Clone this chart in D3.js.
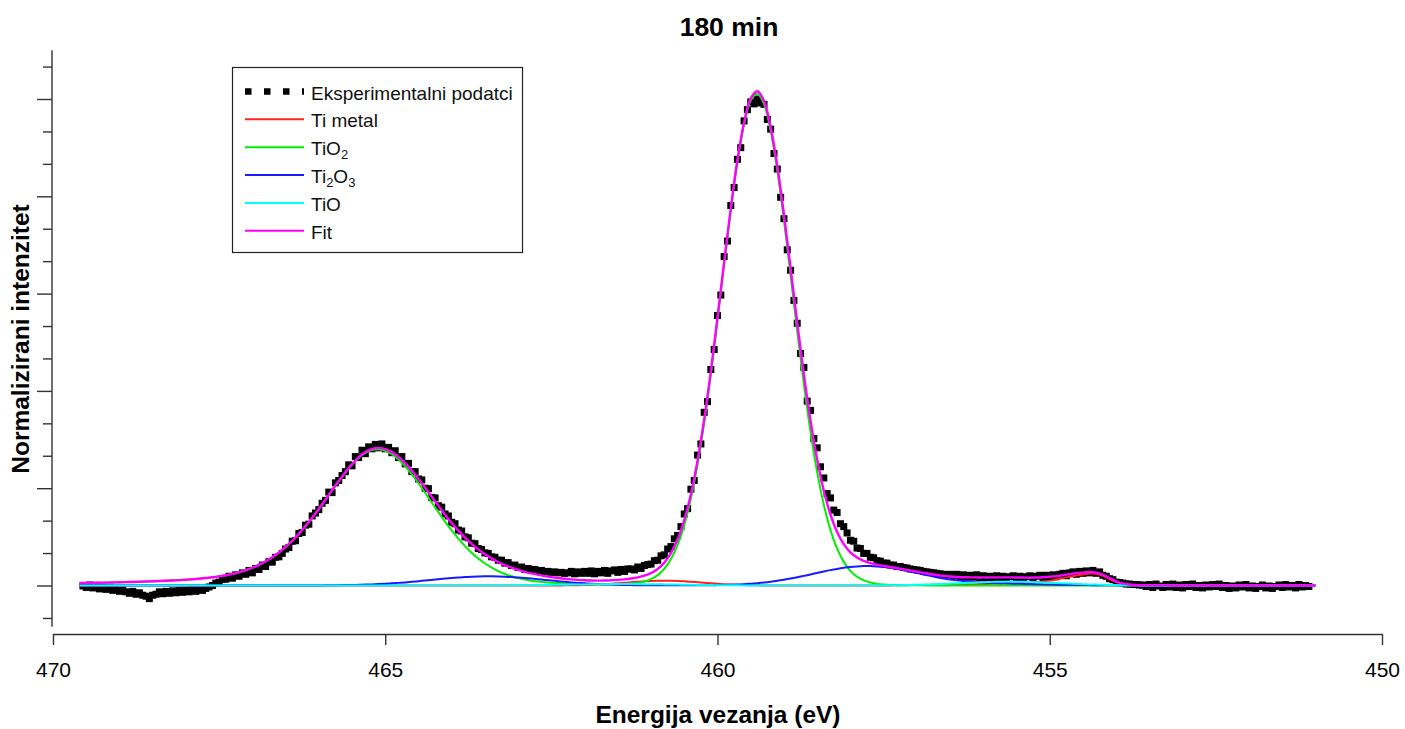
<!DOCTYPE html>
<html><head><meta charset="utf-8">
<script src="https://cdn.jsdelivr.net/npm/d3@7"></script>
<style>
body{margin:0;background:#fff}
text{font-family:"Liberation Sans",Arial,sans-serif}
</style>
</head><body>
<svg id="chart" width="1405" height="729"></svg>
<script>
// ---------- text ----------
const chartTitle = "180 min";
const xTitle = "Energija vezanja (eV)";
const yTitle = "Normalizirani intenzitet";
const xTickValues = [470, 465, 460, 455, 450];
const yMajorTicks = [0, 0.2, 0.4, 0.6, 0.8, 1.0];
const yMinorTicks = [-0.0667, 0.0667, 0.1333, 0.2667, 0.3333, 0.4667, 0.5333, 0.6667, 0.7333, 0.8667, 0.9333, 1.0667];
const legendNames = ["Eksperimentalni podatci", "Ti metal", "TiO2", "Ti2O3", "TiO", "Fit"];

// ---------- model curves: 469.6 eV down to 451.0 eV, every 0.1 eV ----------
const modelStartEV = 469.6, modelStepEV = 0.1;
const tiO2 = [
 .0051,.0053,.0055,.0058,.0060,.0063,.0067,.0070,.0073,.0077,
 .0082,.0086,.0091,.0097,.0104,.0111,.0119,.0129,.0140,.0153,
 .0169,.0188,.0211,.0239,.0274,.0315,.0365,.0425,.0497,.0581,
 .0679,.0792,.0920,.1063,.1221,.1392,.1572,.1761,.1953,.2142,
 .2322,.2484,.2621,.2724,.2785,.2800,.2769,.2698,.2590,.2450,
 .2285,.2101,.1906,.1706,.1507,.1314,.1132,.0963,.0810,.0674,
 .0555,.0453,.0367,.0295,.0236,.0189,.0152,.0122,.0099,.0081,
 .0068,.0057,.0050,.0043,.0039,.0035,.0032,.0028,.0027,.0025,
 .0026,.0027,.0031,.0039,.0054,.0083,.0132,.0214,.0344,.0544,
 .0834,.1241,.1789,.2491,.3350,.4350,.5459,.6609,.7718,.8708,
 .9478,.9967,1.0107,.9897,.9346,.8526,.7506,.6376,.5225,.4135,
 .3160,.2331,.1660,.1140,.0757,.0486,.0301,.0181,.0106,.0061,
 .0033,.0019,.0011,.0007,.0003,.0003,.0003,.0003,.0002,.0002,
 .0002,.0002,.0002,.0002,.0002,.0002,.0002,.0002,.0002,.0001,
 .0001,.0001,.0001,.0001,.0001,.0001,.0001,.0001,.0001,.0001,
 .0001,.0001,.0001,.0001,.0001,.0001,.0001,.0001,.0001,.0001,
 .0001,.0001,.0001,.0001,.0001,.0001,.0001,.0001,.0001,.0001,
 0,0,0,0,0,0,0,0,0,0,
 0,0,0,0,0,0,0
];
const ti2O3 = [
 0,0,0,0,0,0,0,0,0,0,
 0,0,0,0,0,0,0,0,0,0,
 0,0,0,0,0,0,0,0,0,0,
 0,0,0,.0001,.0001,.0002,.0002,.0003,.0004,.0006,
 .0008,.0010,.0014,.0018,.0023,.0029,.0036,.0044,.0054,.0064,
 .0076,.0089,.0102,.0115,.0129,.0142,.0154,.0165,.0175,.0182,
 .0187,.0190,.0190,.0187,.0182,.0175,.0165,.0154,.0142,.0129,
 .0115,.0102,.0089,.0076,.0064,.0054,.0044,.0036,.0029,.0023,
 .0018,.0014,.0010,.0008,.0006,.0004,.0003,.0003,.0003,.0003,
 .0003,.0003,.0003,.0003,.0004,.0005,.0008,.0011,.0015,.0021,
 .0028,.0037,.0048,.0061,.0077,.0096,.0118,.0142,.0169,.0198,
 .0227,.0258,.0288,.0316,.0341,.0363,.0381,.0393,.0399,.0399,
 .0393,.0381,.0363,.0341,.0316,.0288,.0258,.0228,.0199,.0171,
 .0146,.0125,.0107,.0093,.0082,.0072,.0064,.0057,.0051,.0046,
 .0041,.0037,.0033,.0029,.0026,.0023,.0020,.0017,.0015,.0013,
 .0011,.0009,.0008,.0007,.0006,.0005,.0004,.0003,.0003,.0002,
 .0002,.0001,.0001,.0001,.0001,0,0,0,0,0,
 0,0,0,0,0,0,0,0,0,0,
 0,0,0,0,0,0,0
];
const tiMetal = [
 0,0,0,0,0,0,0,0,0,0,
 0,0,0,0,0,0,0,0,0,0,
 0,0,0,0,0,0,0,0,0,0,
 0,0,0,0,0,0,0,0,0,0,
 0,0,0,0,0,0,0,0,0,0,
 0,0,0,0,0,0,0,0,0,0,
 0,0,0,0,0,0,0,0,0,0,
 0,.0001,.0002,.0003,.0004,.0006,.0009,.0014,.0019,.0026,
 .0035,.0044,.0055,.0066,.0077,.0086,.0094,.0098,.0100,.0098,
 .0094,.0086,.0077,.0066,.0055,.0044,.0035,.0026,.0019,.0014,
 .0009,.0006,.0004,.0002,.0001,0,0,0,0,0,
 0,0,0,0,0,0,0,0,0,0,
 0,0,.0002,.0004,.0006,.0008,.0010,.0011,.0013,.0015,
 .0017,.0019,.0021,.0023,.0026,.0028,.0031,.0034,.0037,.0040,
 .0044,.0048,.0052,.0057,.0068,.0082,.0100,.0124,.0152,.0180,
 .0206,.0228,.0245,.0240,.0200,.0135,.0072,.0032,.0012,.0004,
 .0001,0,0,0,0,0,0,0,0,0,
 0,0,0,0,0,0,0,0,0,0,
 0,0,0,0,0,0,0
];
const tiO = [
 0,0,0,0,0,0,0,0,0,0,
 0,0,0,0,0,0,0,0,0,0,
 0,0,0,0,0,0,0,0,0,0,
 0,0,0,0,0,0,0,0,0,0,
 0,0,0,0,0,0,0,0,0,0,
 0,0,0,0,0,0,0,0,0,0,
 0,0,.0001,.0001,.0002,.0003,.0004,.0005,.0007,.0008,
 .0010,.0012,.0014,.0016,.0018,.0020,.0023,.0025,.0026,.0028,
 .0029,.0030,.0030,.0030,.0029,.0028,.0026,.0025,.0023,.0021,
 .0018,.0016,.0014,.0012,.0010,.0008,.0007,.0005,.0004,.0003,
 .0002,.0002,.0001,0,0,0,0,0,0,0,
 0,0,0,0,0,0,0,0,.0001,.0001,
 .0002,.0003,.0004,.0006,.0008,.0011,.0014,.0018,.0022,.0027,
 .0033,.0039,.0045,.0051,.0058,.0064,.0069,.0073,.0077,.0079,
 .0080,.0079,.0077,.0073,.0069,.0064,.0058,.0051,.0045,.0039,
 .0033,.0027,.0022,.0018,.0014,.0011,.0008,.0006,.0004,.0003,
 .0002,.0001,.0001,0,0,0,0,0,0,0,
 0,0,0,0,0,0,0,0,0,0,
 0,0,0,0,0,0,0
];
const fitCurve = [
 .0051,.0053,.0055,.0058,.0060,.0063,.0067,.0070,.0073,.0077,
 .0082,.0086,.0091,.0097,.0104,.0111,.0119,.0129,.0140,.0153,
 .0169,.0188,.0211,.0239,.0274,.0315,.0365,.0425,.0497,.0581,
 .0679,.0792,.0920,.1064,.1222,.1394,.1574,.1764,.1957,.2148,
 .2330,.2494,.2635,.2742,.2808,.2829,.2805,.2742,.2644,.2514,
 .2361,.2190,.2008,.1821,.1636,.1456,.1286,.1128,.0985,.0856,
 .0742,.0643,.0558,.0483,.0420,.0367,.0321,.0281,.0248,.0218,
 .0193,.0172,.0155,.0138,.0125,.0115,.0108,.0103,.0101,.0102,
 .0108,.0115,.0126,.0143,.0166,.0201,.0255,.0340,.0470,.0666,
 .0949,.1346,.1883,.2572,.3419,.4407,.5509,.6651,.7756,.8746,
 .9517,1.0012,1.0160,.9960,.9424,.8622,.7624,.6518,.5394,.4333,
 .3387,.2589,.1948,.1456,.1098,.0849,.0682,.0574,.0506,.0461,
 .0428,.0403,.0380,.0358,.0333,.0310,.0285,.0260,.0236,.0215,
 .0198,.0185,.0175,.0169,.0168,.0166,.0166,.0166,.0167,.0166,
 .0166,.0165,.0163,.0160,.0164,.0170,.0179,.0193,.0213,.0233,
 .0251,.0265,.0276,.0266,.0221,.0152,.0085,.0042,.0020,.0010,
 .0006,.0003,.0003,.0002,.0002,.0001,.0001,.0001,.0001,.0001,
 0,0,0,0,0,0,0,0,0,0,
 0,0,0,0,0,0,0
];

// ---------- experimental points: 469.55 eV down to 451.10 eV, every 0.05 eV ----------
const expStartEV = 469.55, expStepEV = 0.05;
const expIntensity = [
 -.001,-.004,.001,-.005,-.002,-.007,-.003,-.008,-.005,-.010,
 -.006,-.012,-.009,-.013,-.016,-.012,-.018,-.015,-.020,-.022,
 -.027,-.020,-.018,-.013,-.017,-.012,-.016,-.011,-.015,-.010,
 -.014,-.009,-.013,-.008,-.012,-.006,-.010,-.006,-.003,.000,
 .005,.007,.013,.013,.019,.015,.022,.019,.026,.023,
 .031,.026,.035,.033,.042,.039,.049,.048,.058,.059,
 .066,.075,.078,.091,.092,.107,.109,.124,.126,.143,
 .149,.156,.169,.175,.192,.191,.211,.216,.226,.234,
 .248,.246,.265,.263,.278,.271,.285,.281,.290,.283,
 .291,.281,.284,.273,.277,.263,.265,.250,.251,.234,
 .234,.219,.217,.200,.199,.181,.180,.164,.161,.147,
 .143,.130,.127,.114,.112,.100,.098,.087,.086,.076,
 .074,.067,.066,.059,.058,.052,.052,.046,.047,.041,
 .042,.037,.038,.033,.035,.032,.033,.030,.031,.028,
 .029,.027,.028,.026,.027,.025,.026,.029,.024,.028,
 .025,.029,.025,.030,.024,.029,.026,.031,.025,.030,
 .032,.027,.033,.029,.034,.034,.032,.038,.035,.041,
 .043,.044,.051,.052,.061,.063,.075,.080,.096,.103,
 .121,.147,.158,.198,.216,.268,.291,.356,.378,.444,
 .485,.555,.597,.676,.708,.781,.818,.876,.900,.955,
 .978,.994,.990,1.000,.992,.989,.958,.938,.888,.856,
 .798,.754,.690,.648,.586,.539,.477,.448,.379,.360,
 .302,.283,.244,.221,.189,.180,.155,.150,.127,.121,
 .108,.093,.091,.077,.076,.066,.066,.058,.057,.051,
 .050,.046,.046,.042,.042,.039,.039,.037,.036,.034,
 .033,.032,.031,.029,.028,.027,.026,.025,.024,.023,
 .022,.023,.020,.023,.018,.022,.017,.021,.017,.022,
 .016,.020,.015,.019,.014,.020,.015,.019,.014,.018,
 .020,.015,.019,.014,.018,.020,.015,.019,.021,.016,
 .021,.017,.022,.018,.023,.025,.020,.026,.028,.023,
 .029,.025,.030,.026,.031,.025,.028,.021,.019,.014,
 .012,.007,.006,.005,.003,.003,.002,.002,.001,.001,
 -.002,.002,-.004,.003,-.001,-.004,.002,-.003,.003,-.004,
 .001,-.005,.002,-.002,.003,-.004,.000,-.005,.001,-.003,
 .002,-.002,.003,-.004,.000,-.006,-.001,-.005,.001,-.003,
 .002,-.005,-.001,-.006,-.002,.001,-.005,-.001,-.006,-.002,
 .001,-.004,.002,-.003,.000,-.005,.002,-.003,.000,-.002
];

// ---------- build ----------
const modelEV = tiO2.map((_, i) => +(modelStartEV - i * modelStepEV).toFixed(2));
const expEV = expIntensity.map((_, i) => +(expStartEV - i * expStepEV).toFixed(2));
const toPts = arr => arr.map((v, i) => ({e: modelEV[i], v}));

const svg = d3.select("#chart");
svg.append("rect").attr("width", 1405).attr("height", 729).attr("fill", "#fff");

const x = d3.scaleLinear().domain([470, 450]).range([53, 1382]);
const y = d3.scaleLinear().domain([0, 1]).range([585.5, 99]);
const axisColor = "#333";

// x axis
const gx = svg.append("g").attr("transform", "translate(0,634)")
  .call(d3.axisBottom(x).tickValues(xTickValues).tickSize(11).tickSizeOuter(0).tickPadding(17).tickFormat(d3.format("d")));
gx.select(".domain").attr("stroke", axisColor).attr("stroke-width", 1.4);
gx.selectAll(".tick line").attr("stroke", axisColor).attr("stroke-width", 1.4);
gx.selectAll(".tick text").attr("fill", "#000").style("font-size", "21px").style("font-family", "Liberation Sans, Arial, sans-serif");

// y axis (no labels)
const gyMajor = svg.append("g").attr("transform", "translate(52,0)")
  .call(d3.axisLeft(y).tickValues(yMajorTicks).tickSize(15).tickSizeOuter(0).tickFormat(""));
const gyMinor = svg.append("g").attr("transform", "translate(52,0)")
  .call(d3.axisLeft(y).tickValues(yMinorTicks).tickSize(9).tickSizeOuter(0).tickFormat(""));
[gyMajor, gyMinor].forEach(g => {
  g.select(".domain").remove();
  g.selectAll(".tick line").attr("stroke", axisColor).attr("stroke-width", 1.4);
});
svg.append("line").attr("x1", 52).attr("x2", 52)
  .attr("y1", y(1.10)).attr("y2", y(-0.085))
  .attr("stroke", axisColor).attr("stroke-width", 1.4);

// titles
svg.append("text").attr("x", 729).attr("y", 36).attr("text-anchor", "middle")
  .style("font-size", "26.5px").style("font-weight", "bold").text(chartTitle);
svg.append("text").attr("x", 718).attr("y", 723).attr("text-anchor", "middle")
  .style("font-size", "24.5px").style("font-weight", "bold").text(xTitle);
svg.append("text").attr("transform", "translate(29,339) rotate(-90)").attr("text-anchor", "middle")
  .style("font-size", "24.5px").style("font-weight", "bold").text(yTitle);

// experimental squares
svg.append("g").selectAll("rect").data(expIntensity.map((v, i) => ({e: expEV[i], v})))
  .join("rect")
  .attr("x", d => x(d.e) - 3.5).attr("y", d => y(d.v) - 3.5)
  .attr("width", 7).attr("height", 7).attr("fill", "#000");

// component curves + fit
const line = d3.line().x(d => x(d.e)).y(d => y(d.v)).curve(d3.curveCatmullRom.alpha(0.5));
const series = [
  {arr: tiMetal, color: "#ff2020", w: 2},
  {arr: tiO2, color: "#00ee00", w: 2},
  {arr: ti2O3, color: "#1a1aff", w: 2},
  {arr: tiO, color: "#00ffff", w: 2},
  {arr: fitCurve, color: "#ff00ff", w: 2.4}
];
series.forEach(s => {
  svg.append("path").datum(toPts(s.arr)).attr("d", line)
    .attr("fill", "none").attr("stroke", s.color).attr("stroke-width", s.w)
    .attr("stroke-linejoin", "round");
});

// legend
const lg = svg.append("g");
lg.append("rect").attr("x", 232.5).attr("y", 67.5).attr("width", 290).attr("height", 185)
  .attr("fill", "#fff").attr("stroke", "#222").attr("stroke-width", 1.2);
const legendRows = [
  {name: legendNames[0], color: "#000", dots: true},
  {name: legendNames[1], color: "#ff2020"},
  {name: legendNames[2], color: "#00ee00", sub: true},
  {name: legendNames[3], color: "#1a1aff", sub3: true},
  {name: legendNames[4], color: "#00ffff"},
  {name: legendNames[5], color: "#ff00ff"}
];
legendRows.forEach((r, i) => {
  const ly = 91.5 + i * 27.85;
  const l = lg.append("line").attr("x1", 245).attr("x2", 304).attr("y1", ly).attr("y2", ly)
    .attr("stroke", r.color);
  if (r.dots) l.attr("stroke-width", 6.5).attr("stroke-dasharray", "6.5,12.5");
  else l.attr("stroke-width", 2);
  const t = lg.append("text").attr("x", 311).attr("y", ly + 8).style("font-size", "19px").attr("fill", "#111");
  if (r.sub) {
    t.append("tspan").text("TiO");
    t.append("tspan").text("2").style("font-size", "13px").attr("dy", 4);
  } else if (r.sub3) {
    t.append("tspan").text("Ti");
    t.append("tspan").text("2").style("font-size", "13px").attr("dy", 4);
    t.append("tspan").text("O").attr("dy", -4);
    t.append("tspan").text("3").style("font-size", "13px").attr("dy", 4);
  } else {
    t.text(r.name);
  }
});
</script>
</body></html>
